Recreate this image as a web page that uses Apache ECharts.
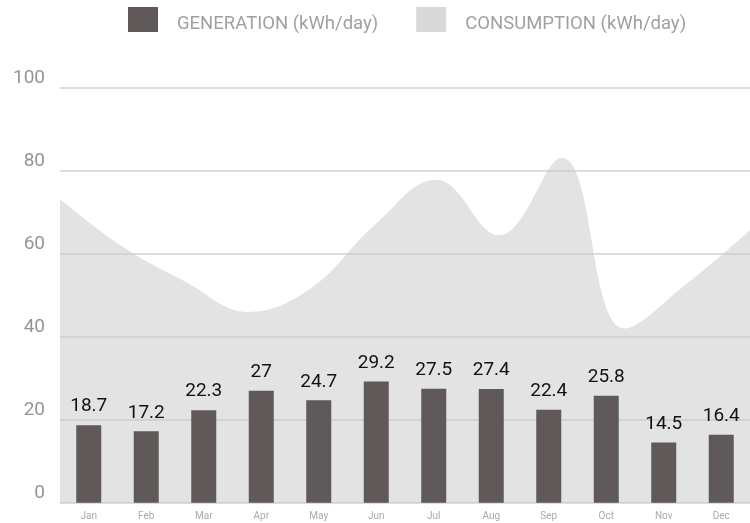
<!DOCTYPE html>
<html><head><meta charset="utf-8">
<script src="https://cdn.jsdelivr.net/npm/echarts@6/dist/echarts.min.js"></script>
<style>html,body{margin:0;padding:0;background:#fff}#c{width:750px;height:523px}</style>
</head><body><div id="c"></div>
<script>
const months = ['Jan','Feb','Mar','Apr','May','Jun','Jul','Aug','Sep','Oct','Nov','Dec'];
const generation = [18.7,17.2,22.3,27,24.7,29.2,27.5,27.4,22.4,25.8,14.5,16.4];
const consumption = [73.2,61.7,53.3,46.0,51.7,66.7,77.9,64.5,83.2,42.0,52.9,65.7];
const yTicks = {min:0, max:100, interval:20};

const chart = echarts.init(document.getElementById('c'));
chart.setOption({
  animation:false,
  textStyle:{fontFamily:'Roboto'},
  legend:{
    top:7, left:128, itemWidth:30, itemHeight:25, itemGap:38, padding:0,
    icon:'rect',
    formatter:'{a|{name}}',
    textStyle:{color:'#a0a0a0', fontSize:18.5, fontFamily:'Roboto', padding:[0,0,0,14],
      rich:{a:{color:'#a0a0a0', fontSize:18.5, fontFamily:'Roboto', padding:[9,0,0,0]}}},
    data:['GENERATION (kWh/day)','CONSUMPTION (kWh/day)']
  },
  grid:[
    {left:60, top:88, width:695, height:414.7},
    {left:60, top:88, width:690, height:414.7}
  ],
  xAxis:[
    {type:'category', gridIndex:0, data:months, boundaryGap:true,
     axisLine:{lineStyle:{color:'#d6d6d6'}}, axisTick:{show:false},
     axisLabel:{color:'#aaaaaa', fontSize:10, margin:9}},
    {type:'category', gridIndex:1, data:months, boundaryGap:false, show:false}
  ],
  yAxis:[
    {type:'value', gridIndex:0, min:yTicks.min, max:yTicks.max, interval:yTicks.interval,
     axisLabel:{color:'#959595', fontSize:19, margin:15, verticalAlign:'bottom'}, splitLine:{show:false},
     axisLine:{show:false}, axisTick:{show:false}},
    {type:'value', gridIndex:1, min:yTicks.min, max:yTicks.max, interval:yTicks.interval,
     axisLabel:{show:false}, axisLine:{show:false}, axisTick:{show:false},
     splitLine:{lineStyle:{color:'#dddddd', width:2}}}
  ],
  series:[
    {name:'CONSUMPTION (kWh/day)', type:'line', xAxisIndex:1, yAxisIndex:1,
     data:consumption, smooth:0.4, symbol:'none', z:1,
     itemStyle:{color:'#d9d9d9'}, lineStyle:{width:0},
     areaStyle:{color:'rgba(200,200,200,0.5)', opacity:1}},
    {name:'GENERATION (kWh/day)', type:'bar', xAxisIndex:0, yAxisIndex:0,
     data:generation, barWidth:25, z:3,
     itemStyle:{color:'#5f5959'},
     label:{show:true, position:'top', distance:9, color:'#111', fontSize:19, fontFamily:'Roboto'}}
  ]
});
</script></body></html>
